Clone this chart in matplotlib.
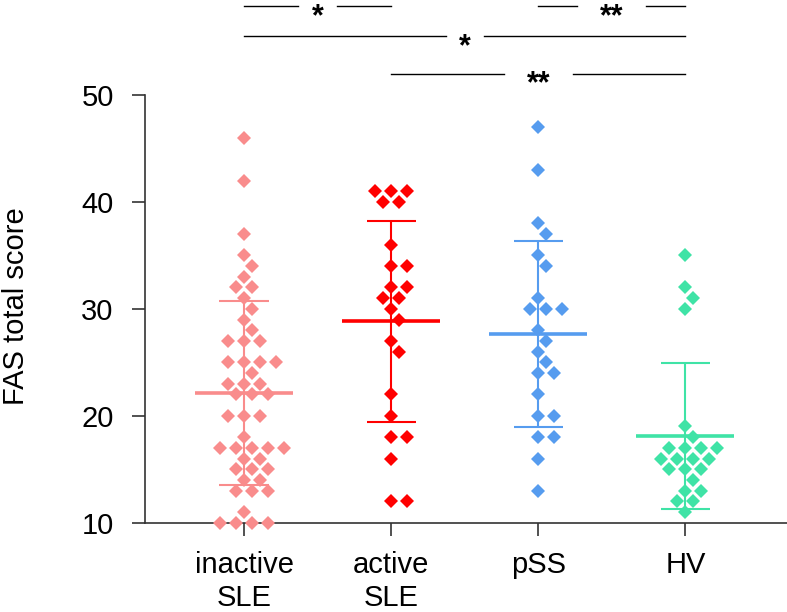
import numpy as np
import matplotlib.pyplot as plt

plt.rcParams['font.family'] = ['Liberation Sans', 'DejaVu Sans']

# group names and colours
groups = ['inactive\nSLE', 'active\nSLE', 'pSS', 'HV']
colors = ['#F98C8C', '#FF0000', '#569CEF', '#3FE3A6']

# FAS total score per subject
inactive_sle = [46, 42, 37, 35, 34, 33, 32, 32, 31, 30, 29, 28, 27, 27, 27,
                25, 25, 25, 25, 24, 23, 23, 23, 22, 22, 22, 20, 20, 20, 18,
                17, 17, 17, 17, 17, 16, 16, 15, 15, 15, 14, 14, 13, 13, 13,
                11, 10, 10, 10, 10]
active_sle = [41, 41, 41, 40, 40, 36, 34, 34, 32, 32, 31, 31, 30, 29, 27,
              26, 22, 20, 18, 18, 16, 12, 12]
pss = [47, 43, 38, 37, 35, 34, 31, 30, 30, 30, 28, 27, 26, 25, 24, 24,
       22, 20, 20, 18, 18, 16, 13]
hv = [35, 32, 31, 30, 19, 18, 17, 17, 17, 17, 16, 16, 16, 16, 15, 15, 15,
      14, 13, 13, 12, 12, 11]
scores = [inactive_sle, active_sle, pss, hv]

# significance brackets: pairs of groups and their labels (top row first)
pairs = [(0, 1), (2, 3), (0, 3), (1, 3)]
stars = ['*', '**', '*', '**']
rows = [0, 0, 1, 2]

fig = plt.figure(figsize=(7.87, 6.12), dpi=100)
ax = fig.add_axes([145 / 787, 1 - 522.7 / 612, 642 / 787, 427.7 / 612])
ax.set_xlim(-0.673, 3.69)
ax.set_ylim(10, 50)

# pixel scale for the swarm layout
px_x = ax.bbox.width / (3.69 + 0.673)
px_y = ax.bbox.height / 40.0
step = 8.0       # horizontal step in pixels
dmin = 13.0      # min distance between marker centres in pixels


def swarm(vals):
    placed = []
    offs = []
    cands = [0]
    for j in range(1, 20):
        cands += [j, -j]
    for v in vals:
        k = 0
        for c in cands:
            ok = True
            for (ox, oy) in placed:
                if np.hypot((c * step - ox), (v - oy) * px_y) < dmin:
                    ok = False
                    break
            if ok:
                k = c
                break
        placed.append((k * step, v))
        offs.append(k * step / px_x)
    return np.array(offs)


for i, (vals, col) in enumerate(zip(scores, colors)):
    vals = np.array(vals, dtype=float)
    xs = i + swarm(vals)
    ax.plot(xs, vals, 'D', ms=6.8, color=col, mew=0, zorder=4, clip_on=False)
    m = vals.mean()
    sd = vals.std(ddof=1)
    ax.hlines(m, i - 0.333, i + 0.333, color=col, lw=2.6, zorder=3)
    ax.vlines(i, m - sd, m + sd, color=col, lw=1.5, zorder=3)
    ax.hlines([m - sd, m + sd], i - 0.167, i + 0.167, color=col, lw=1.5, zorder=3)

# brackets above the plot
row_y = [58.3, 55.5, 52.0]
for (a, b), s, r in zip(pairs, stars, rows):
    y = row_y[r]
    mid = (a + b) / 2
    gap = 0.13 if s == '*' else 0.235
    ax.plot([a, mid - gap], [y, y], color='black', lw=1.0, clip_on=False)
    ax.plot([mid + gap, b], [y, y], color='black', lw=1.0, clip_on=False)
    ax.text(mid, y - 1.75, s, ha='center', va='baseline', fontsize=22,
            fontweight='bold', clip_on=False)

for sp in ['top', 'right']:
    ax.spines[sp].set_visible(False)
for sp in ['left', 'bottom']:
    ax.spines[sp].set_linewidth(1.2)
    ax.spines[sp].set_color('#333333')

ax.set_xticks(range(len(groups)))
ax.set_xticklabels(groups)
ax.set_yticks([10, 20, 30, 40, 50])
ax.tick_params(axis='both', length=9.5, width=1.2, color='#333333', labelsize=21)
ax.tick_params(axis='y', pad=13)
ax.tick_params(axis='x', pad=11)

fig.text(0.003, 0.5, 'FAS total score', rotation=90, ha='left', va='center',
         fontsize=21)

fig.savefig('out.png', dpi=100)
